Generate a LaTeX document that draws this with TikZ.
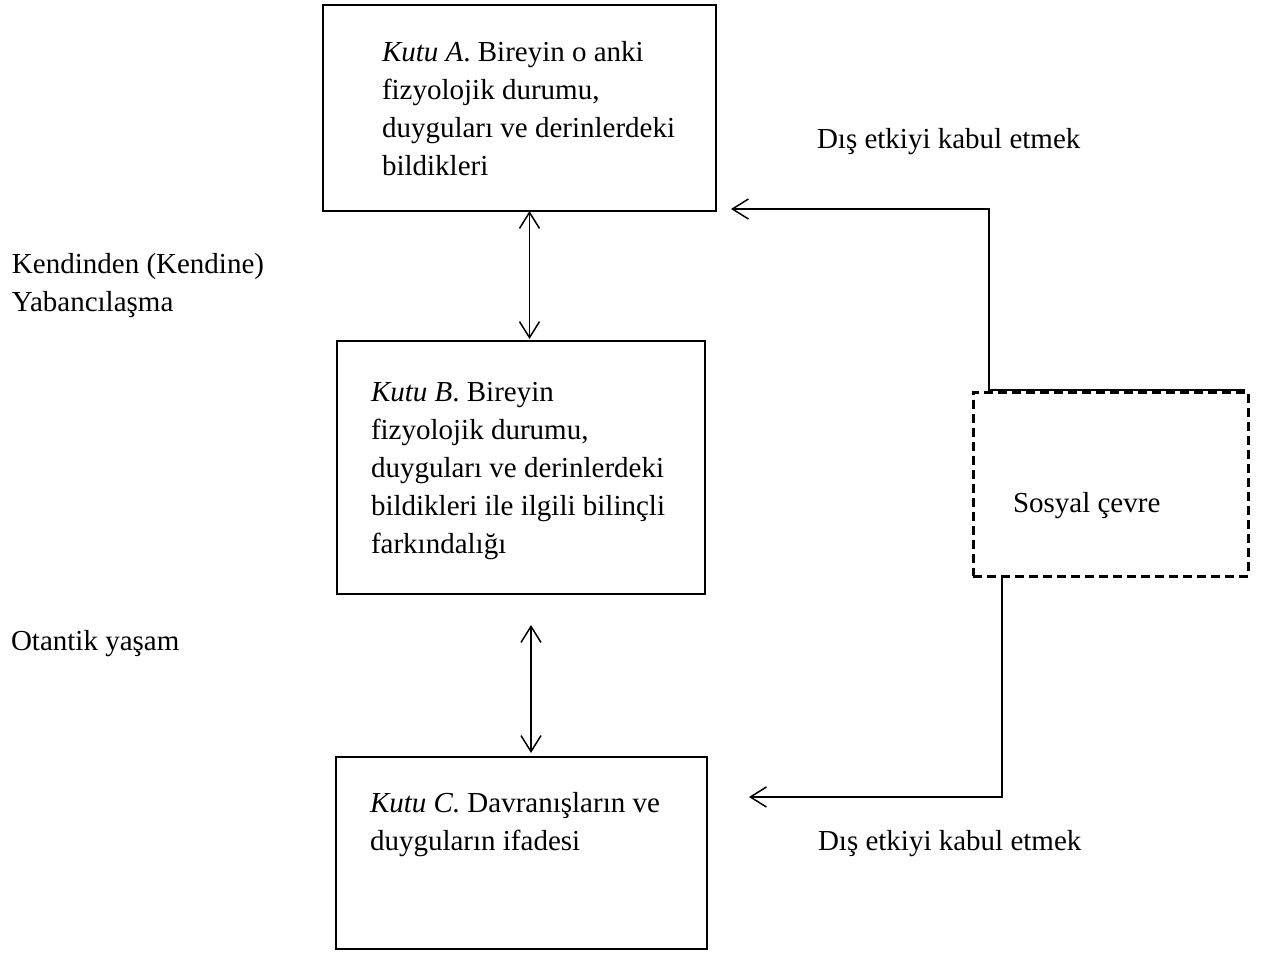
\documentclass[tikz,border=0pt]{standalone}
\usepackage{fontspec}
\setmainfont{Liberation Serif}
\usetikzlibrary{arrows.meta,calc}
\newcommand{\boxtext}[1]{\parbox[t]{420pt}{\fontsize{29}{38}\selectfont\raggedright #1}}
\begin{document}
\begin{tikzpicture}[x=1pt,y=-1pt,
  box/.style={draw, line width=1.8pt, inner sep=0pt, outer sep=0pt, anchor=north west},
  dashbox/.style={draw, line width=3pt, dash pattern=on 9pt off 5pt, inner sep=0pt, outer sep=0pt, anchor=north west},
  txt/.style={inner sep=0pt, outer sep=0pt, anchor=base west, font=\fontsize{29}{38}\selectfont},
  conn/.style={line width=1.5pt},
  barb/.style={-{Straight Barb[length=16pt,width=20pt,line width=1.5pt]}},
  dblbarb/.style={{Straight Barb[length=16pt,width=20pt,line width=1.5pt]}-{Straight Barb[length=16pt,width=20pt,line width=1.5pt]}}
]
\useasboundingbox (0,0) rectangle (1264,960);
\fill[white] (0,0) rectangle (1264,960);

% boxes
\node[box, line width=2pt, minimum width=393pt, minimum height=206pt] (A) at (323,5) {};
\node[box, minimum width=368pt, minimum height=253pt] (B) at (337,341) {};
\node[box, minimum width=371pt, minimum height=192pt] (C) at (336,757) {};
\node[dashbox, minimum width=275pt, minimum height=184pt] (S) at (973,392) {};

% box texts
\node[txt] (tA) at (382,62) {\boxtext{\textit{Kutu A}. Bireyin o anki\\fizyolojik durumu,\\duyguları ve derinlerdeki\\bildikleri}};
\node[txt] (tB) at (371,401) {\boxtext{\textit{Kutu B}. Bireyin\\fizyolojik durumu,\\duyguları ve derinlerdeki\\bildikleri ile ilgili bilinçli\\farkındalığı}};
\node[txt] (tC) at (370,812) {\boxtext{\textit{Kutu C.} Davranışların ve\\duyguların ifadesi}};
\node[txt] (tS) at (1013,512) {Sosyal çevre};

% side labels
\node[txt] (l1) at (12,273) {\boxtext{Kendinden (Kendine)\\Yabancılaşma}};
\node[txt] (l2) at (11,650) {Otantik yaşam};
\node[txt] (d1) at (817,149) {Dış etkiyi kabul etmek};
\node[txt] (d2) at (818,850) {Dış etkiyi kabul etmek};

% vertical double arrows
\coordinate (abT) at ([xshift=10pt]A.south);
\coordinate (abB) at ($(abT |- B.north)+(0,-2)$);
\draw[conn,dblbarb] (abT) -- (abB);
\coordinate (bcT) at ([xshift=10pt,yshift=-31pt]B.south);
\coordinate (bcB) at ($(bcT |- C.north)+(0,-4)$);
\draw[conn,dblbarb] (bcT) -- (bcB);

% feedback connectors from Sosyal cevre
\coordinate (sTop) at ([xshift=-3pt,yshift=2pt]S.north east);
\coordinate (sTopL) at ([xshift=16pt,yshift=2pt]S.north west);
\coordinate (aTip) at ([xshift=15pt,yshift=2pt]A.south east);
\draw[conn,barb] (sTop) -- (sTopL) |- (aTip);
\coordinate (sBot) at ([xshift=29pt]S.south west);
\coordinate (cTip) at ([xshift=42pt,yshift=-40pt]C.north east);
\draw[conn,barb] (sBot) |- (cTip);
\end{tikzpicture}
\end{document}
